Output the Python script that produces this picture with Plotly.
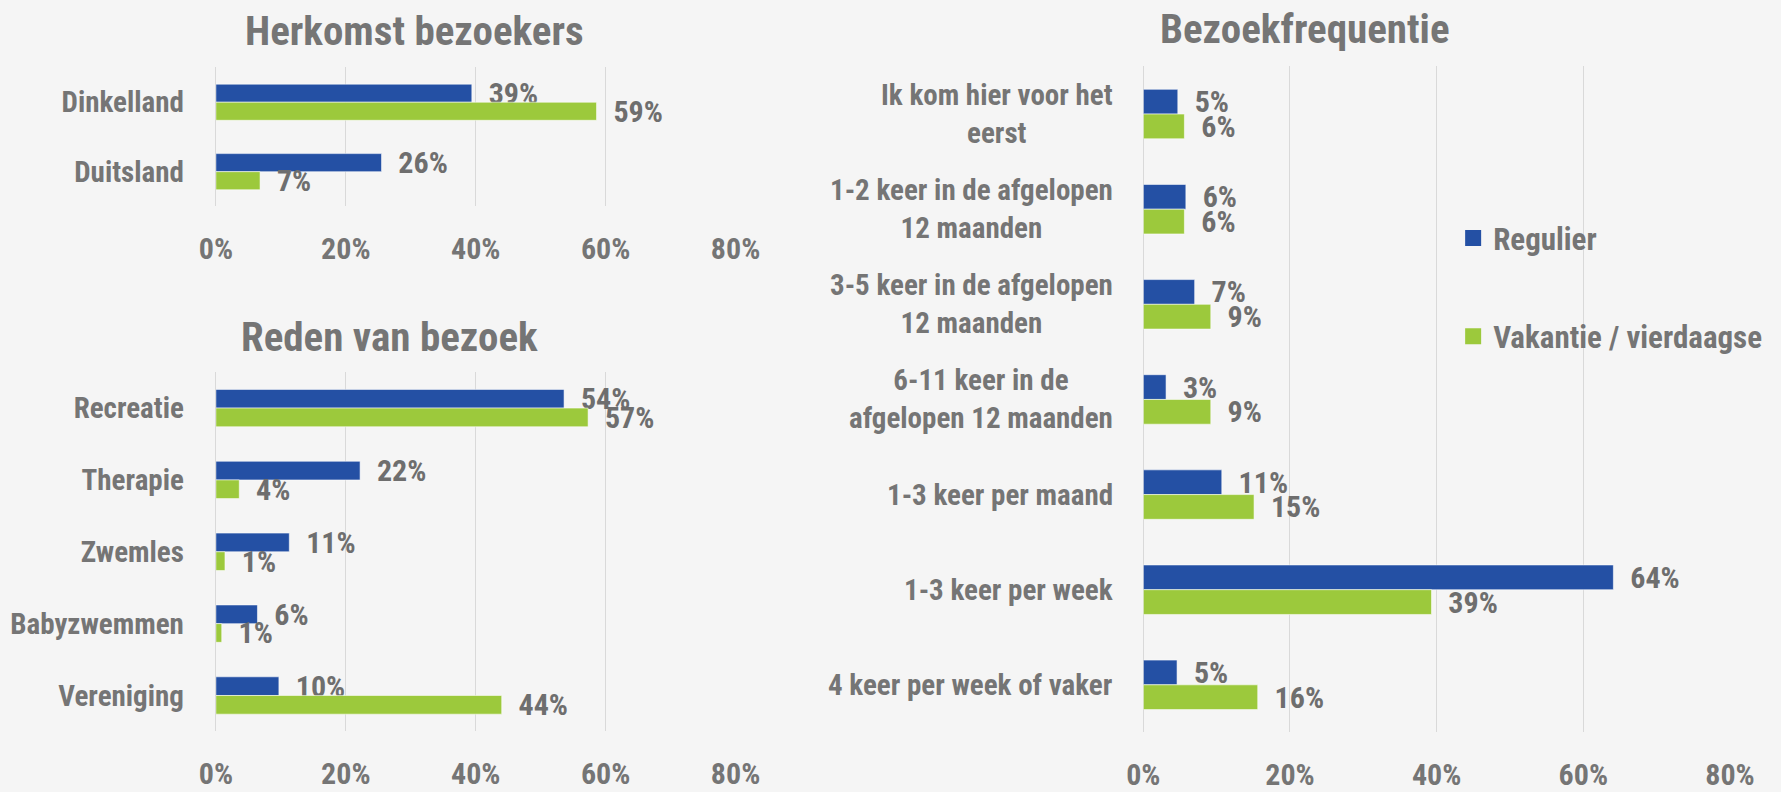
import plotly.graph_objects as go

# ---------------- data ----------------
series_names = ["Regulier", "Vakantie / vierdaagse"]

herkomst_cats = ["Dinkelland", "Duitsland"]
herkomst_regulier = [0.394, 0.255]
herkomst_vakantie = [0.586, 0.068]

reden_cats = ["Recreatie", "Therapie", "Zwemles", "Babyzwemmen", "Vereniging"]
reden_regulier = [0.536, 0.222, 0.113, 0.064, 0.097]
reden_vakantie = [0.573, 0.036, 0.014, 0.009, 0.440]

freq_cats = [
    "Ik kom hier voor het<br>eerst",
    "1-2 keer in de afgelopen<br>12 maanden",
    "3-5 keer in de afgelopen<br>12 maanden",
    "6-11 keer in de<br>afgelopen 12 maanden",
    "1-3 keer per maand",
    "1-3 keer per week",
    "4 keer per week of vaker",
]
freq_regulier = [0.047, 0.058, 0.070, 0.031, 0.107, 0.641, 0.046]
freq_vakantie = [0.056, 0.056, 0.092, 0.092, 0.151, 0.393, 0.156]

titles = ["Herkomst bezoekers", "Reden van bezoek", "Bezoekfrequentie"]
x_ticks = [0, 0.2, 0.4, 0.6, 0.8]

# ---------------- style ----------------
W, H = 1781, 792
FONT = "Roboto Condensed, Roboto, sans-serif"
BLUE = "#2450A4"
GREEN = "#9CC93C"
TXT = "#757575"
LBL = "#6E6E6E"
GRID = "#D9D9D9"
BG = "#F5F5F5"
FS = 29

def F(size, color=TXT):
    return dict(family=FONT, size=size, color=color, weight="bold")

# horizontal placement helper (target pixel -> paper fraction, with a small
# correction for how the page is captured)
def X(px):
    return (px - 18) / 0.977 / W

def Y(px):
    return 1 - px / H

fig = go.Figure()

def add_pair(cats, reg, vak, xa, ya):
    for name, vals, col in [(series_names[0], reg, BLUE), (series_names[1], vak, GREEN)]:
        fig.add_trace(go.Bar(
            y=cats, x=vals, name=name, orientation="h",
            marker=dict(color=col, line=dict(color="rgba(255,255,255,0.55)", width=1)),
            texttemplate="\u00a0\u00a0%{x:.0%}", textposition="outside",
            textfont=F(30, LBL),
            constraintext="none", cliponaxis=False,
            xaxis=xa, yaxis=ya, showlegend=False,
            hovertemplate="%{y}: %{x:.0%}<extra>" + name + "</extra>",
        ))

add_pair(herkomst_cats, herkomst_regulier, herkomst_vakantie, "x", "y")
add_pair(reden_cats, reden_regulier, reden_vakantie, "x2", "y2")
add_pair(freq_cats, freq_regulier, freq_vakantie, "x3", "y3")

# legend entries (square swatches)
for name, col, grp in [(series_names[0], BLUE, "r"), (series_names[1], GREEN, "v")]:
    fig.add_trace(go.Scatter(
        x=[None], y=[None], mode="markers", name=name, legendgroup=grp,
        marker=dict(symbol="square", size=16, color=col),
        xaxis="x3", yaxis="y3", showlegend=True, hoverinfo="skip",
    ))

xcommon = dict(range=[0, 0.8], tickvals=x_ticks, tickformat=".0%", showgrid=True,
               gridcolor=GRID, gridwidth=1, zeroline=True, zerolinecolor=GRID,
               zerolinewidth=1, showline=False, ticks="", ticklabelstandoff=22,
               tickfont=F(30), fixedrange=True)
ycommon = dict(autorange="reversed", showgrid=False, zeroline=False, showline=False,
               ticks="", ticklabelstandoff=31,
               tickfont=F(FS), fixedrange=True)

fig.update_layout(
    width=W, height=H,
    margin=dict(l=0, r=0, t=0, b=0),
    paper_bgcolor=BG, plot_bgcolor="rgba(0,0,0,0)",
    barmode="group", bargap=0.48, bargroupgap=0,
    font=F(FS),
    xaxis=dict(domain=[X(217), X(737)], anchor="y", **xcommon),
    yaxis=dict(domain=[Y(208), Y(68)], anchor="x", **ycommon),
    xaxis2=dict(domain=[X(217), X(737)], anchor="y2", **xcommon),
    yaxis2=dict(domain=[Y(737), Y(375)], anchor="x2", **ycommon),
    xaxis3=dict(domain=[X(1145), X(1732)], anchor="y3", **xcommon),
    yaxis3=dict(domain=[Y(738), Y(67)], anchor="x3", **{**ycommon, "showticklabels": False}),
    legend=dict(x=X(1455), y=Y(289.5), xanchor="left", yanchor="middle",
                bgcolor="rgba(0,0,0,0)", tracegroupgap=55, font=F(31),
                itemclick=False, itemdoubleclick=False),
    showlegend=True,
)

# titles
title_pos = [(416, 31), (391, 340), (1307, 29)]
for t, (cx, cy) in zip(titles, title_pos):
    fig.add_annotation(text=t, x=X(cx), y=Y(cy), xref="paper", yref="paper",
                       xanchor="center", yanchor="middle", showarrow=False,
                       font=F(41))

# right chart category labels (centered multi-line)
for c in freq_cats:
    fig.add_annotation(text=c, x=0, xref="x3 domain", y=c, yref="y3",
                       xanchor="right", yanchor="middle", align="center",
                       xshift=-28, showarrow=False, font=F(FS))

fig.write_html("out.html", config={"displayModeBar": False},
               post_script="document.body.style.margin='0';document.body.style.overflow='hidden';")
